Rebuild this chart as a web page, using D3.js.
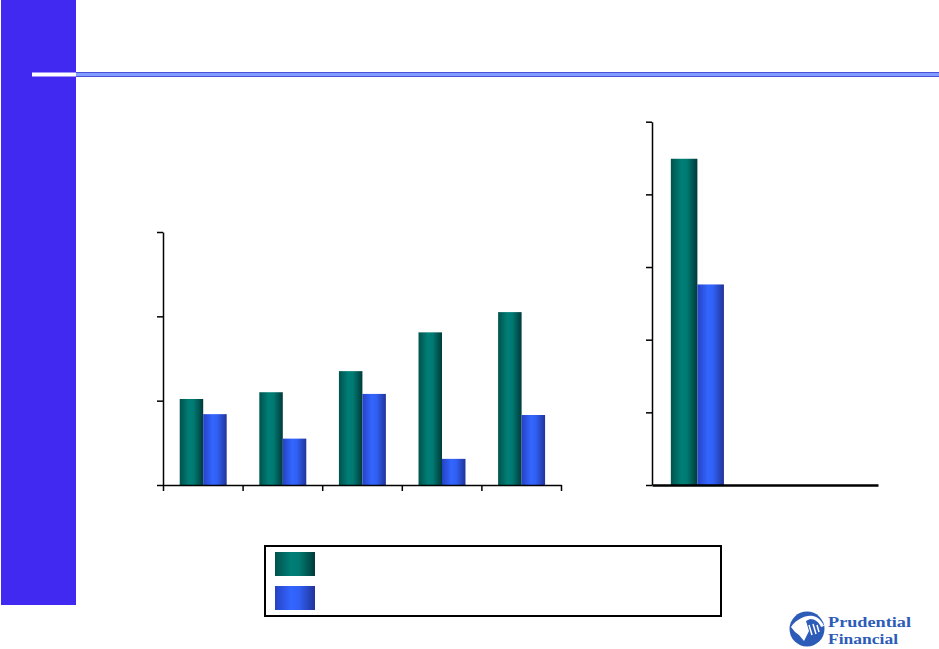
<!DOCTYPE html>
<html>
<head>
<meta charset="utf-8">
<script src="https://cdn.jsdelivr.net/npm/d3@7"></script>
<style>
  html, body { margin: 0; padding: 0; background: #fff; }
  svg { display: block; }
</style>
</head>
<body>
<div id="chart"></div>
<script>
// Datos
const series = ["A", "B"];
const leftCategories = ["c1", "c2", "c3", "c4", "c5"];
const leftSeriesA = [1.02, 1.10, 1.35, 1.81, 2.05];
const leftSeriesB = [0.84, 0.55, 1.08, 0.31, 0.83];
const leftTicks = [0, 1, 2, 3];

const rightCategories = ["r1", "r2", "r3"];
const rightSeriesA = [4.49, 0, 0];
const rightSeriesB = [2.76, 0, 0];
const rightTicks = [0, 1, 2, 3, 4, 5];

const logoLines = ["Prudential", "Financial"];

const W = 939, H = 649;

const svg = d3.select("#chart")
    .append("svg")
    .attr("width", W)
    .attr("height", H);

const defs = svg.append("defs");

// Gradientes de las barras
function addGradient(id, stops) {
    const g = defs.append("linearGradient")
        .attr("id", id)
        .attr("x1", "0%").attr("x2", "100%")
        .attr("y1", "0%").attr("y2", "0%");
    stops.forEach(([o, c]) => g.append("stop").attr("offset", o).attr("stop-color", c));
}
addGradient("gradA", [["0%", "#00524c"], ["40%", "#007f77"], ["60%", "#007a72"], ["100%", "#003a3a"]]);
addGradient("gradB", [["0%", "#2642c4"], ["40%", "#3366ff"], ["60%", "#3060f4"], ["100%", "#22339a"]]);
const fills = { A: "url(#gradA)", B: "url(#gradB)" };

// Barra lateral y línea de título
svg.append("rect")
    .attr("x", 1).attr("y", 0)
    .attr("width", 75).attr("height", 605)
    .attr("fill", "#4129f2");

svg.append("rect")
    .attr("x", 32).attr("y", 72.5)
    .attr("width", 44).attr("height", 4)
    .attr("fill", "#ffffff");

svg.append("rect")
    .attr("x", 76).attr("y", 72)
    .attr("width", W - 76).attr("height", 5)
    .attr("fill", "#4a52dc");
svg.append("rect")
    .attr("x", 76).attr("y", 73)
    .attr("width", W - 76).attr("height", 3)
    .attr("fill", "#809dff");

// Gráficos de barras
function drawChart(opts) {
    const g = svg.append("g");
    const x0 = d3.scaleBand()
        .domain(opts.categories)
        .range([opts.left, opts.right])
        .padding(0);
    const x1 = d3.scaleBand()
        .domain(series)
        .range([x0.bandwidth() * opts.inner[0], x0.bandwidth() * opts.inner[1]]);
    const y = d3.scaleLinear()
        .domain([0, d3.max(opts.ticks)])
        .range([opts.bottom, opts.top]);

    const rows = opts.categories.map((c, i) => ({
        cat: c,
        values: [{ key: "A", v: opts.a[i] }, { key: "B", v: opts.b[i] }]
    }));

    g.selectAll(".grp")
        .data(rows)
        .enter().append("g")
        .attr("transform", d => `translate(${x0(d.cat)},0)`)
        .selectAll("rect")
        .data(d => d.values.filter(v => v.v > 0))
        .enter().append("rect")
        .attr("x", d => x1(d.key))
        .attr("width", x1.bandwidth())
        .attr("y", d => y(d.v))
        .attr("height", d => y(0) - y(d.v))
        .attr("fill", d => fills[d.key]);

    // Eje Y
    const ya = g.append("g")
        .attr("transform", `translate(${opts.left},0)`)
        .call(d3.axisLeft(y).tickValues(opts.ticks).tickSize(6).tickSizeOuter(0).tickFormat(""));
    ya.selectAll("path, line").attr("stroke", "#000").attr("stroke-width", 1.5);

    // Eje X
    if (opts.xTicks) {
        const xl = d3.scaleLinear()
            .domain([0, opts.categories.length])
            .range([opts.left, opts.right]);
        const xa = g.append("g")
            .attr("transform", `translate(0,${opts.bottom})`)
            .call(d3.axisBottom(xl).ticks(opts.categories.length).tickSize(6).tickSizeOuter(0).tickFormat(""));
        xa.selectAll("path, line").attr("stroke", "#000").attr("stroke-width", 1.5);
    } else {
        const xa = g.append("g")
            .attr("transform", `translate(0,${opts.bottom})`)
            .call(d3.axisBottom(x0).tickSize(0).tickSizeOuter(0).tickFormat(""));
        xa.select("path").attr("stroke", "#000").attr("stroke-width", 2.5);
        xa.selectAll("line").remove();
    }
}

drawChart({
    categories: leftCategories, a: leftSeriesA, b: leftSeriesB, ticks: leftTicks,
    left: 163, right: 561, top: 232, bottom: 485,
    inner: [0.21, 0.80], xTicks: true
});

drawChart({
    categories: rightCategories, a: rightSeriesA, b: rightSeriesB, ticks: rightTicks,
    left: 652, right: 878, top: 121.7, bottom: 485,
    inner: [0.25, 0.955], xTicks: false
});

// Leyenda
const legend = svg.append("g");
legend.append("rect")
    .attr("x", 265).attr("y", 546)
    .attr("width", 456).attr("height", 70)
    .attr("fill", "#fff")
    .attr("stroke", "#000")
    .attr("stroke-width", 2);
legend.selectAll(".sw")
    .data(series)
    .enter().append("rect")
    .attr("x", 275)
    .attr("y", (d, i) => 552 + i * 34)
    .attr("width", 40)
    .attr("height", 24)
    .attr("fill", d => fills[d]);

// Logo
const logo = svg.append("g").attr("transform", "translate(807,629)");
logo.append("circle").attr("r", 17.5).attr("fill", "#2d5cb8");
logo.append("path")
    .attr("d", "M-16,-2 C-10,-10 -2,-14 6,-13 C11,-12 15,-8 17,-3 L14,-2 C12,-7 8,-10 3,-10 L-1,-8 L2,2 L-3,12 L-8,6 L-12,3 Z")
    .attr("fill", "#fff");
logo.append("path")
    .attr("d", "M2,-4 L5,6 M6,-5 L9,5 M10,-4 L12,3")
    .attr("stroke", "#fff").attr("stroke-width", 1.5);

svg.selectAll(".logo-text")
    .data(logoLines)
    .enter().append("text")
    .attr("class", "logo-text")
    .attr("x", 828)
    .attr("y", (d, i) => 626.5 + i * 17.5)
    .attr("font-family", "Liberation Serif, DejaVu Serif, serif")
    .attr("font-weight", "bold")
    .attr("font-size", 15.5)
    .attr("fill", "#2d5cb8")
    .attr("textLength", (d, i) => i === 0 ? 83 : 70)
    .attr("lengthAdjust", "spacingAndGlyphs")
    .text(d => d);
</script>
</body>
</html>
